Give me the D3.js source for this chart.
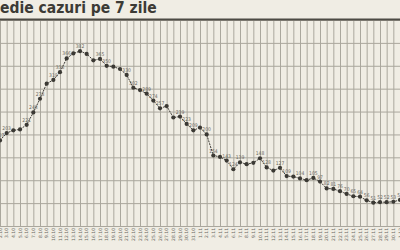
<!DOCTYPE html>
<html>
<head>
<meta charset="utf-8">
<script src="https://cdn.jsdelivr.net/npm/d3@7"></script>
<style>
  body { margin: 0; background: #f0ede4; }
  svg { display: block; }
</style>
</head>
<body>
<div id="canvas"></div>
<script>
"use strict"

// 7-day average of cases, 2 Oct -> 1 Dec
let dates = [];
for (let d = 2; d <= 31; d++) dates.push(d + ".10");
for (let d = 1; d <= 30; d++) dates.push(d + ".11");
dates.push("1.12");

let cases = [187, 203, 209, 211, 221, 248, 278, 311, 319, 336,
             366, 377, 382, 376, 362, 365, 350, 348, 343, 330,
             302, 297, 289, 274, 257, 262, 237, 239, 223, 209,
             215, 200, 154, 151, 143, 124, 139, 135, 138, 148,
             128, 121, 127, 109, 108, 104, 100, 105, 97, 82,
             81, 76, 70, 65, 64, 56, 51, 52, 52, 53, 57];

// which points carry a value label
let labelled = [0, 1, 4, 5, 6, 8, 9, 10, 12, 15, 16, 19, 20, 22, 23, 24, 27, 28, 29, 31,
                32, 34, 35, 36, 39, 40, 42, 43, 45, 47, 48, 49, 50, 51, 52, 53, 54, 55,
                56, 57, 58, 59, 60];

let yTicks = [0, 50, 100, 150, 200, 250, 300, 350, 400, 450];

let drawing = d3.select("#canvas")
    .append("svg")
    .attr("width", 400)
    .attr("height", 250);

drawing.append("rect")
    .attr("width", 400).attr("height", 250)
    .attr("fill", "#f0ede4");

let x = d3.scalePoint().domain(dates).range([0, 400]);
let y = d3.scaleLinear().domain([0, 450]).range([226, 20]);

/* grid */
let gridY = drawing.append("g")
    .call(d3.axisLeft(y).tickValues(yTicks).tickSize(-400).tickFormat(""));
gridY.select(".domain").remove();
gridY.selectAll("line").attr("stroke", "#aaa79d").attr("stroke-width", 1);

let gridX = drawing.append("g")
    .attr("transform", "translate(0,226)")
    .call(d3.axisBottom(x).tickSize(-206).tickFormat(""));
gridX.select(".domain").attr("stroke", "#aaa79d");
gridX.selectAll("line").attr("stroke", "#aaa79d").attr("stroke-width", 1);

/* date labels */
drawing.append("g").selectAll("text")
    .data(dates)
    .join("text")
    .attr("transform", d => "translate(" + x(d) + ",228) rotate(-90)")
    .attr("text-anchor", "end")
    .attr("dy", "0.35em")
    .attr("font-family", "DejaVu Sans")
    .attr("font-size", 4.5)
    .attr("fill", "#6a6862")
    .text(d => d);

/* line + points */
let line = d3.line()
    .x((d, i) => x(dates[i]))
    .y(d => y(d));

drawing.append("path")
    .datum(cases)
    .attr("d", line)
    .attr("fill", "none")
    .attr("stroke", "#3b3934")
    .attr("stroke-width", 1)
    .attr("stroke-dasharray", "2,1");

drawing.append("g").selectAll("circle")
    .data(cases)
    .join("circle")
    .attr("cx", (d, i) => x(dates[i]))
    .attr("cy", d => y(d))
    .attr("r", 2.1)
    .attr("fill", "#3b3934");

drawing.append("g").selectAll("text")
    .data(labelled)
    .join("text")
    .attr("x", i => x(dates[i]))
    .attr("y", i => y(cases[i]) - 3)
    .attr("text-anchor", "middle")
    .attr("font-family", "DejaVu Sans Condensed")
    .attr("font-size", 5)
    .attr("fill", "#6a6862")
    .text(i => cases[i]);

/* title, cut on the left as in the source */
let title = drawing.append("text")
    .attr("y", 13)
    .attr("font-family", "'Liberation Sans Narrow', 'DejaVu Sans Condensed', sans-serif")
    .attr("font-weight", "bold")
    .attr("font-size", 15.5)
    .attr("fill", "#3c3b36");
title.append("tspan").text("M");
title.append("tspan").text("edie cazuri pe 7 zile");
let mWidth = title.node().getSubStringLength(0, 1);
title.attr("x", -mWidth);

drawing.append("line")
    .attr("x1", 0).attr("x2", 400)
    .attr("y1", 19.5).attr("y2", 19.5)
    .attr("stroke", "#4d4b44")
    .attr("stroke-width", 2);
</script>
</body>
</html>
